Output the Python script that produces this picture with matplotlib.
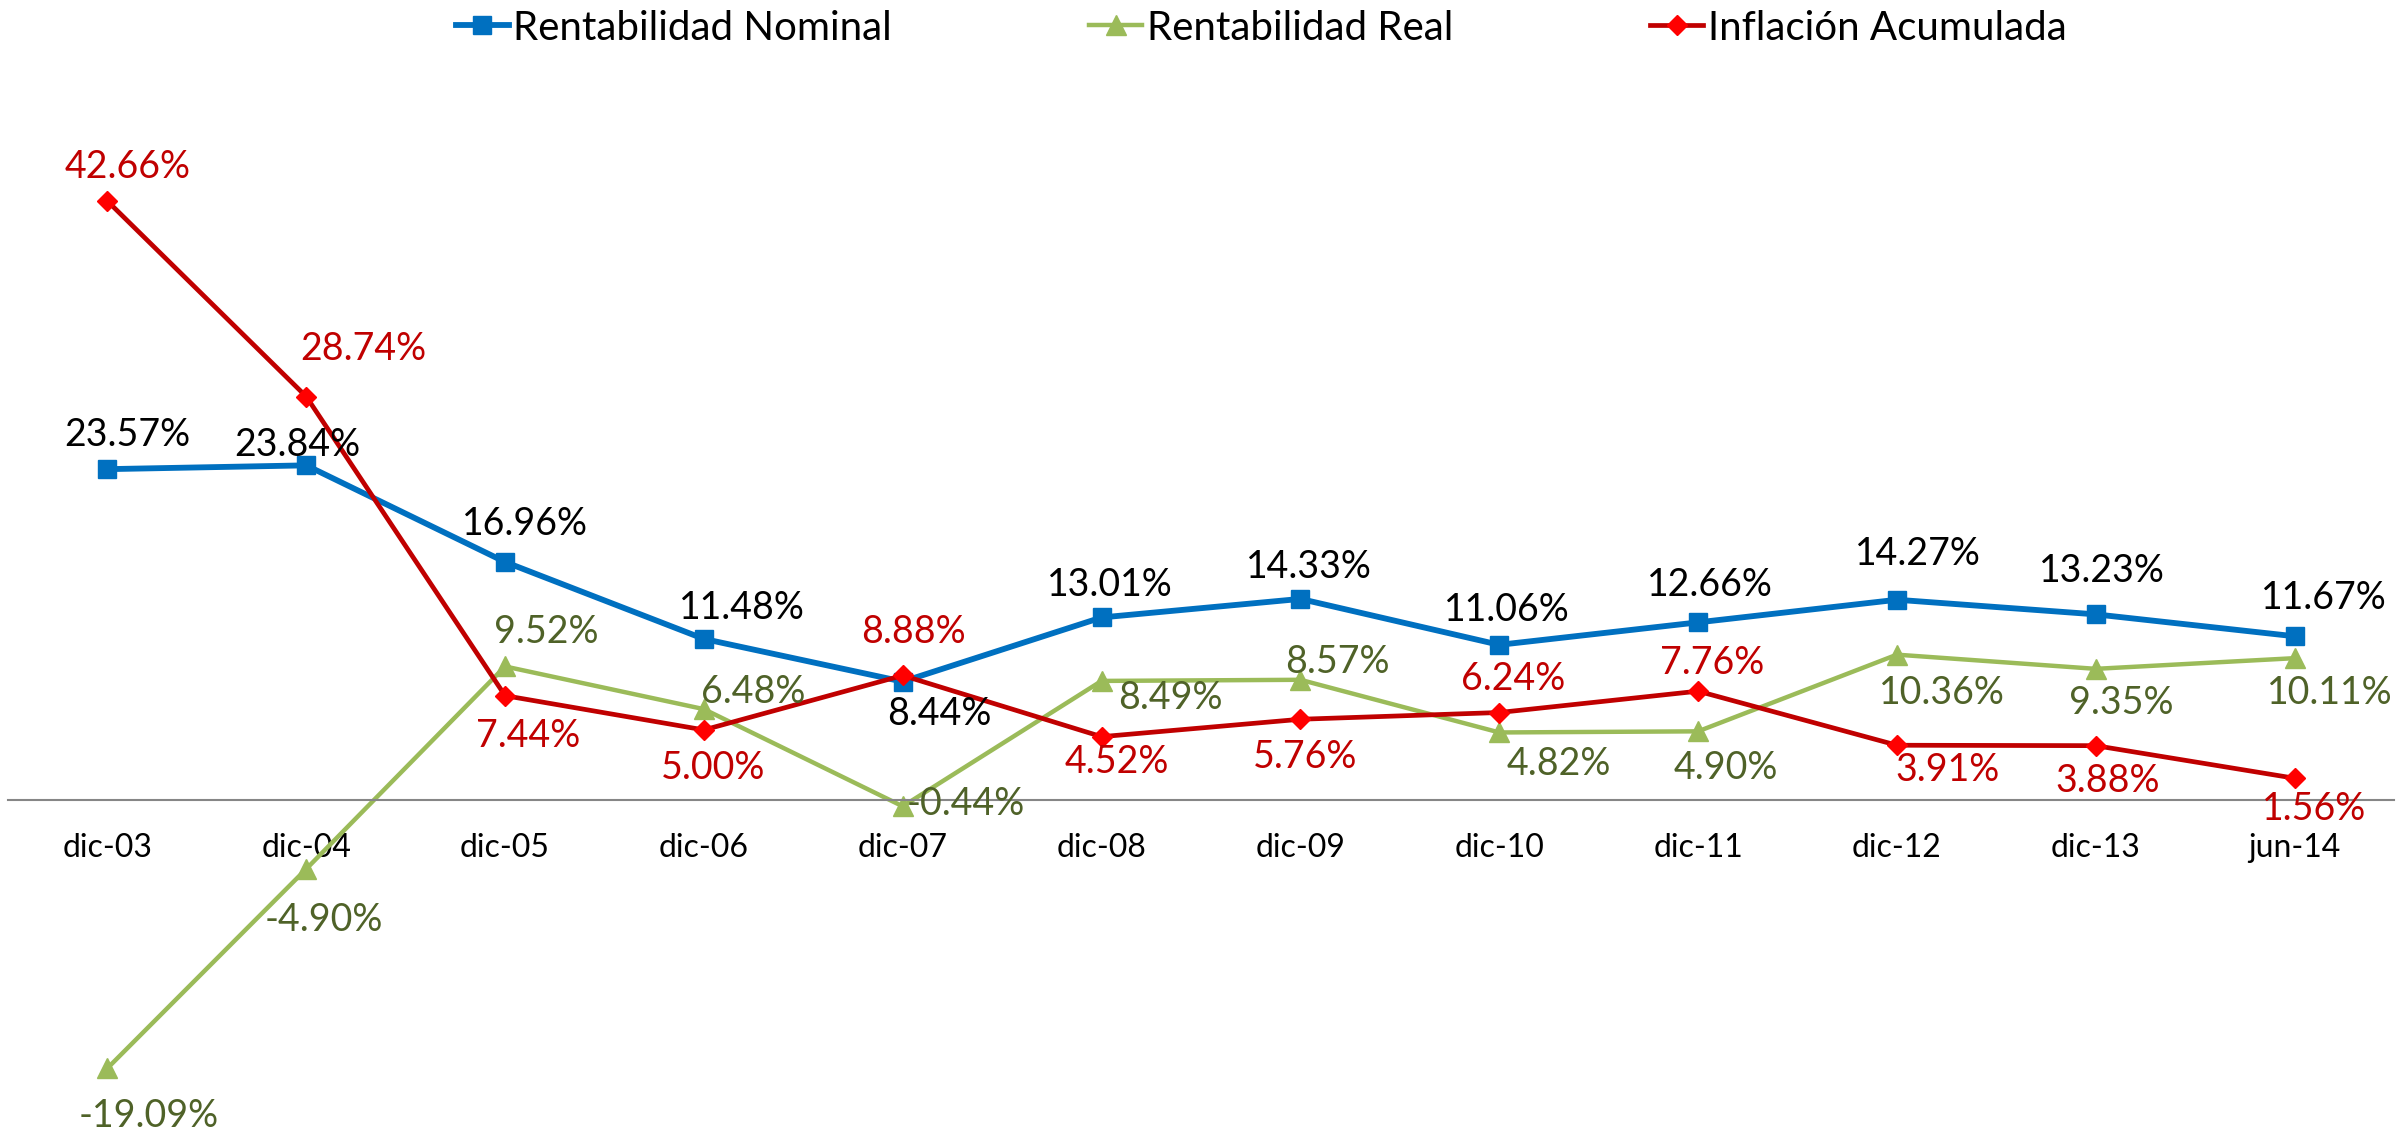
import numpy as np
import matplotlib
matplotlib.use("Agg")
import matplotlib.pyplot as plt
from matplotlib.lines import Line2D

plt.rcParams['font.family'] = ['Lato', 'DejaVu Sans']

# data
categories = ['dic-03', 'dic-04', 'dic-05', 'dic-06', 'dic-07', 'dic-08',
              'dic-09', 'dic-10', 'dic-11', 'dic-12', 'dic-13', 'jun-14']
nominal = [23.57, 23.84, 16.96, 11.48, 8.44, 13.01, 14.33, 11.06, 12.66, 14.27, 13.23, 11.67]
real = [-19.09, -4.90, 9.52, 6.48, -0.44, 8.49, 8.57, 4.82, 4.90, 10.36, 9.35, 10.11]
inflacion = [42.66, 28.74, 7.44, 5.00, 8.88, 4.52, 5.76, 6.24, 7.76, 3.91, 3.88, 1.56]
series_names = ['Rentabilidad Nominal', 'Rentabilidad Real', 'Inflación Acumulada']

# label offsets in pixels (dx, dy) from the marker
off_nominal = [(20, 34), (-9, 20), (20, 38), (38, 31), (37, -32), (8, 32),
               (9, 32), (8, 35), (12, 37), (21, 46), (6, 43), (29, 38)]
off_real = [(41, -48), (18, -51), (41, 34), (49, 17), (63, 2), (69, -17),
            (37, 18), (60, -32), (28, -37), (45, -38), (26, -34), (35, -35)]
off_infl = [(20, 34), (57, 48), (23, -40), (9, -38), (11, 43), (15, -25),
            (5, -38), (14, 34), (14, 28), (51, -25), (12, -35), (20, -31)]

BLUE = '#0070C0'
GREEN = '#9BBB59'
GREEN_TXT = '#4F6228'
RED_LINE = '#C00000'
RED_MK = '#FF0000'

fig = plt.figure(figsize=(24.07, 11.37), dpi=100)
ax = fig.add_axes([8/2407, 56/1137, 2386/2407, 983/1137])
x = np.arange(len(categories))

ax.plot(x, np.array(nominal)/100, color=BLUE, lw=4.2, marker='s', ms=13,
        mfc=BLUE, mec=BLUE, zorder=3)
ax.plot(x, np.array(real)/100, color=GREEN, lw=3.2, marker='^', ms=14,
        mfc=GREEN, mec=GREEN, zorder=2)
ax.plot(x, np.array(inflacion)/100, color=RED_LINE, lw=3.4, marker='D', ms=10,
        mfc=RED_MK, mec=RED_MK, zorder=4)

fs_lab = 27
for vals, offs, col in [(nominal, off_nominal, 'black'),
                        (real, off_real, GREEN_TXT),
                        (inflacion, off_infl, RED_LINE)]:
    for i, (v, (dx, dy)) in enumerate(zip(vals, offs)):
        ax.annotate(f'{v:.2f}%', (i, v/100), xytext=(dx, dy),
                    textcoords='offset pixels', ha='center', va='center',
                    fontsize=fs_lab, color=col, zorder=5)

ax.set_xlim(-0.5, len(categories) - 0.5)
ax.set_ylim(-0.20, 0.50)
for s in ['top', 'right', 'left']:
    ax.spines[s].set_visible(False)
ax.spines['bottom'].set_position(('data', 0))
ax.spines['bottom'].set_color('#868686')
ax.spines['bottom'].set_linewidth(1.5)
ax.set_yticks([])
ax.set_xticks(x)
ax.set_xticklabels(categories, fontsize=23)
ax.tick_params(axis='x', length=0, pad=24)

handles = [Line2D([], [], color=BLUE, lw=4.2, marker='s', ms=13),
           Line2D([], [], color=GREEN, lw=3.2, marker='^', ms=14),
           Line2D([], [], color=RED_LINE, lw=3.4, marker='D', ms=10,
                  mfc=RED_MK, mec=RED_MK)]
fig.legend(handles, series_names, loc='center', bbox_to_anchor=(0.524, 1 - 28/1137),
           ncol=3, frameon=False, fontsize=29, handlelength=1.3,
           handletextpad=0.12, columnspacing=4.9)

fig.savefig('out.png', dpi=100)
